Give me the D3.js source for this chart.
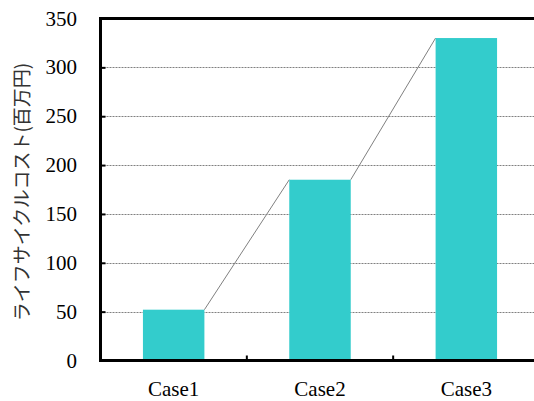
<!DOCTYPE html>
<html lang="en">
<head>
<meta charset="utf-8">
<script src="https://cdn.jsdelivr.net/npm/d3@7"></script>
</head>
<body style="margin:0;background:#fff">
<svg id="chart" width="534" height="401"></svg>
<script>
const categories = ["Case1", "Case2", "Case3"];
const values = [52, 185, 330];
const yTicks = [0, 50, 100, 150, 200, 250, 300, 350];
const yTitle = "ライフサイクルコスト(百万円)";

(function () {
const svg = d3.select("#chart");
const pLeft = 100.5, pRight = 539.5, pTop = 18.5, pBottom = 360.5;
const SERIF = "Liberation Serif, Tinos, Times New Roman, serif";

const x = d3.scaleBand().domain(categories).range([pLeft, pRight])
  .paddingInner(0.58).paddingOuter(0.29);
const y = d3.scaleLinear().domain([0, 350]).range([pBottom, pTop]);

svg.append("g").selectAll("line")
  .data(yTicks.filter(t => t > 0 && t < 350))
  .join("line")
  .attr("x1", pLeft).attr("x2", 534)
  .attr("y1", d => Math.round(y(d)) + 0.5).attr("y2", d => Math.round(y(d)) + 0.5)
  .attr("stroke", "#808080").attr("stroke-width", 1)
  .attr("stroke-dasharray", "2,1");

const pts = categories.map((c, i) => ({c, v: values[i]}));
svg.append("g").selectAll("line")
  .data(d3.pairs(pts))
  .join("line")
  .attr("x1", d => x(d[0].c) + x.bandwidth())
  .attr("y1", d => y(d[0].v))
  .attr("x2", d => x(d[1].c))
  .attr("y2", d => y(d[1].v))
  .attr("stroke", "#808080").attr("stroke-width", 1);

svg.append("g").selectAll("rect")
  .data(pts)
  .join("rect")
  .attr("x", d => x(d.c))
  .attr("y", d => y(d.v))
  .attr("width", x.bandwidth())
  .attr("height", d => y(0) - y(d.v))
  .attr("fill", "#33CCCC");

svg.append("line").attr("x1", pLeft - 1.5).attr("x2", 534)
  .attr("y1", pTop).attr("y2", pTop)
  .attr("stroke", "#000").attr("stroke-width", 3);

const yAxis = d3.axisRight(y).tickValues(yTicks).tickSize(5).tickFormat("");
const gy = svg.append("g").attr("transform", `translate(${pLeft},0)`).call(yAxis);
gy.select(".domain").remove();
gy.selectAll(".tick line").attr("stroke", "#000").attr("stroke-width", 2);
svg.append("line").attr("x1", pLeft).attr("x2", pLeft)
  .attr("y1", pTop - 1.5).attr("y2", pBottom + 1.5)
  .attr("stroke", "#000").attr("stroke-width", 3);

svg.append("g").attr("lang", "en").selectAll("text")
  .data(yTicks)
  .join("text")
  .attr("x", 77)
  .attr("y", d => y(d) + 7)
  .attr("text-anchor", "end")
  .style("font-family", SERIF)
  .style("font-size", "21px")
  .style("fill", "#000")
  .text(d => d);

const boundaries = categories.map(c => x(c) - x.step() * x.paddingInner() / 2).slice(1);
svg.append("g").selectAll("line")
  .data(boundaries)
  .join("line")
  .attr("x1", d => d).attr("x2", d => d)
  .attr("y1", pBottom).attr("y2", pBottom - 5)
  .attr("stroke", "#000").attr("stroke-width", 2);
svg.append("line").attr("x1", pLeft - 1.5).attr("x2", 534)
  .attr("y1", pBottom).attr("y2", pBottom)
  .attr("stroke", "#000").attr("stroke-width", 3);

svg.append("g").attr("lang", "en").selectAll("text")
  .data(categories)
  .join("text")
  .attr("x", d => x(d) + x.bandwidth() / 2)
  .attr("y", 396)
  .attr("text-anchor", "middle")
  .style("font-family", SERIF)
  .style("font-size", "21px")
  .style("fill", "#000")
  .text(d => d);

svg.append("text")
  .attr("lang", "ja")
  .attr("transform", "translate(22,192) rotate(-90)")
  .attr("dy", "0.35em")
  .attr("text-anchor", "middle")
  .style("font-family", "Noto Sans CJK JP")
  .style("font-size", "19px")
  .style("fill", "#333")
  .text(yTitle);
})();
</script>
</body>
</html>
